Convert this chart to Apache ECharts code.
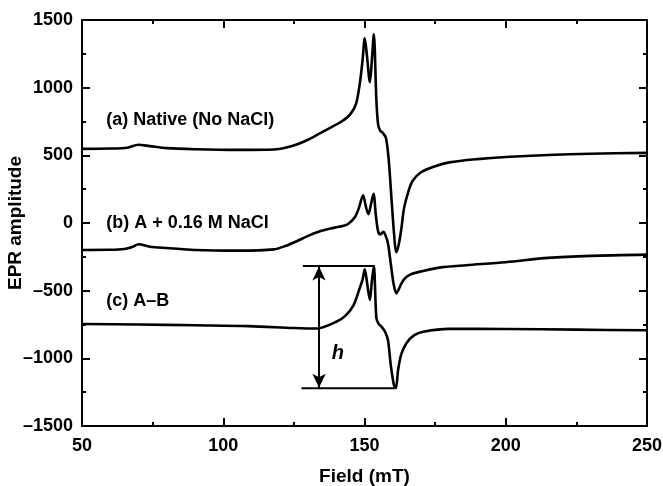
<!DOCTYPE html>
<html>
<head>
<meta charset="utf-8">
<script src="https://cdn.jsdelivr.net/npm/echarts@6/dist/echarts.min.js"></script>
<style>
  html, body { margin: 0; padding: 0; background: #fff; }
  #chart { width: 663px; height: 486px; }
</style>
</head>
<body>
<div id="chart"></div>
<script>
// (a) native
var aField = [50, 60, 66, 70, 74, 80, 90, 105, 118, 122, 126, 130, 134, 138, 142, 145, 147, 148.4, 149.3, 150.1, 150.9, 151.9, 152.6, 153.3, 154.2, 154.8, 155.5, 156.5, 157.6, 158.6, 159.6, 160.5, 161.2, 162, 163, 164, 165.5, 167, 170, 175, 180, 190, 200, 215, 230, 250];
var aAmp = [548, 550, 556, 578, 568, 553, 545, 540, 543, 556, 580, 615, 660, 705, 752, 805, 880, 1040, 1200, 1365, 1230, 1040, 1200, 1395, 910, 730, 685, 665, 628, 460, 165, -90, -215, -170, -50, 110, 230, 310, 375, 420, 448, 472, 488, 503, 512, 518];
// (b) A + 0.16 M NaCl
var bField = [50, 60, 65, 68, 70, 74, 80, 90, 105, 118, 122, 126, 130, 134, 138, 141, 144, 146.5, 148, 149.5, 150.5, 151.4, 152.3, 153.2, 154, 154.8, 155.6, 156.7, 157.5, 158.3, 159.3, 160.3, 161.3, 162.1, 163.1, 164.5, 166.5, 170, 177, 186, 200, 215, 230, 250];
var bAmp = [-199, -198, -192, -175, -157, -175, -185, -199, -204, -195, -170, -135, -95, -62, -40, -28, -10, 40, 110, 205, 120, 65, 140, 215, 60, -60, -85, -65, -95, -150, -300, -450, -520, -490, -446, -405, -378, -358, -328, -312, -290, -258, -243, -234];
// (c) A - B
var cField = [50, 70, 90, 109, 125, 133, 140, 143, 146, 148.3, 149.3, 150.1, 150.9, 151.9, 152.6, 153.3, 154.2, 155, 156, 157.2, 158.3, 159.3, 160.4, 161.1, 161.9, 163, 164.9, 167.5, 170.8, 180, 200, 225, 250];
var cAmp = [-746, -750, -756, -762, -776, -780, -730, -690, -612, -482, -420, -342, -440, -569, -430, -318, -702, -745, -766, -800, -864, -1050, -1196, -1220, -1086, -970, -886, -830, -803, -782, -783, -788, -793];
// h marker
var hTopField = [128.2, 153.6];
var hTopAmp = [-318, -318];
var hBotField = [127.7, 160.7];
var hBotAmp = [-1221, -1221];
var hArrowField = 133.9;
var hArrowAmp = [-322, -1217];
// curve labels
var labelText = ['(a) Native (No NaCl)', '(b) A + 0.16 M NaCl', '(c) A\u2013B'];
var labelField = [58.6, 58.6, 58.6];
var labelAmp = [764, 0, -576];
var hLabel = { text: 'h', field: 140.6, amp: -963 };

function pairs(xs, ys) {
    var out = [];
    for (var i = 0; i < xs.length; i++) out.push([xs[i], ys[i]]);
    return out;
}

var FONT = 'Liberation Sans, Arial, sans-serif';
var black = '#000';

var myChart = echarts.init(document.getElementById('chart'));
var tickFmt = function (v) { return String(v).replace('-', '\u2013'); };

var baseX = {
    type: 'value', min: 50, max: 250, interval: 50,
    axisLine: { show: true, onZero: false, lineStyle: { color: black, width: 2 } },
    axisTick: { show: true, inside: true, length: 8, lineStyle: { color: black, width: 2 } },
    minorTick: { show: true, splitNumber: 2, length: 4, lineStyle: { color: black, width: 2 } },
    splitLine: { show: false }
};
var baseY = {
    type: 'value', min: -1500, max: 1500, interval: 500,
    axisLine: { show: true, onZero: false, lineStyle: { color: black, width: 2 } },
    axisTick: { show: true, inside: true, length: 8, lineStyle: { color: black, width: 2 } },
    minorTick: { show: true, splitNumber: 2, length: 4, lineStyle: { color: black, width: 2 } },
    splitLine: { show: false }
};

var curveStyle = { color: black, width: 2.6 };

option = {
    animation: false,
    backgroundColor: '#fff',
    grid: { left: 82, right: 16, top: 20, bottom: 60, containLabel: false, outerBoundsMode: 'none' },
    xAxis: [
        echarts.util.merge({
            position: 'bottom',
            name: 'Field (mT)', nameLocation: 'middle', nameGap: 41, nameMoveOverlap: false,
            nameTextStyle: { color: black, fontSize: 19, fontFamily: FONT, fontWeight: 'bold' },
            axisLabel: { color: black, fontSize: 18, fontFamily: FONT, fontWeight: 'bold', margin: 11 }
        }, baseX, true),
        echarts.util.merge({ position: 'top', axisLabel: { show: false } }, baseX, true)
    ],
    yAxis: [
        echarts.util.merge({
            position: 'left',
            name: 'EPR amplitude', nameLocation: 'middle', nameGap: 57, nameMoveOverlap: false,
            nameTextStyle: { color: black, fontSize: 19, fontFamily: FONT, fontWeight: 'bold' },
            axisLabel: { color: black, fontSize: 18, fontFamily: FONT, fontWeight: 'bold', margin: 9, formatter: tickFmt }
        }, baseY, true),
        echarts.util.merge({ position: 'right', axisLabel: { show: false } }, baseY, true)
    ],
    series: [
        { name: 'a', type: 'line', data: pairs(aField, aAmp), showSymbol: false, smooth: 0.3, lineStyle: curveStyle },
        { name: 'b', type: 'line', data: pairs(bField, bAmp), showSymbol: false, smooth: 0.3, lineStyle: curveStyle },
        { name: 'c', type: 'line', data: pairs(cField, cAmp), showSymbol: false, smooth: 0.3, lineStyle: curveStyle },
        { name: 'hTop', type: 'line', data: pairs(hTopField, hTopAmp), showSymbol: false, lineStyle: { color: black, width: 2 } },
        { name: 'hBot', type: 'line', data: pairs(hBotField, hBotAmp), showSymbol: false, lineStyle: { color: black, width: 2 } },
        {
            name: 'hArrow', type: 'line', data: [],
            markLine: {
                silent: true, symbol: ['arrow', 'arrow'], symbolSize: [10, 14],
                label: { show: false },
                lineStyle: { color: black, width: 2, type: 'solid' },
                data: [[{ coord: [hArrowField, hArrowAmp[0]] }, { coord: [hArrowField, hArrowAmp[1]] }]]
            }
        },
        {
            name: 'labels', type: 'scatter', symbolSize: 0, itemStyle: { opacity: 1 },
            data: labelText.map(function (t, i) { return { name: t, value: [labelField[i], labelAmp[i]] }; }),
            label: { show: true, position: 'inside', align: 'left', verticalAlign: 'middle', formatter: '{b}', color: black, opacity: 1, fontSize: 18, fontWeight: 'bold', fontFamily: FONT }
        },
        {
            name: 'hLabel', type: 'scatter', symbolSize: 0, itemStyle: { opacity: 1 },
            data: [{ name: hLabel.text, value: [hLabel.field, hLabel.amp] }],
            label: { show: true, position: 'inside', formatter: '{b}', color: black, opacity: 1, fontSize: 20, fontStyle: 'italic', fontWeight: 'bold', fontFamily: FONT }
        }
    ]
};
myChart.setOption(option);
</script>
</body>
</html>
